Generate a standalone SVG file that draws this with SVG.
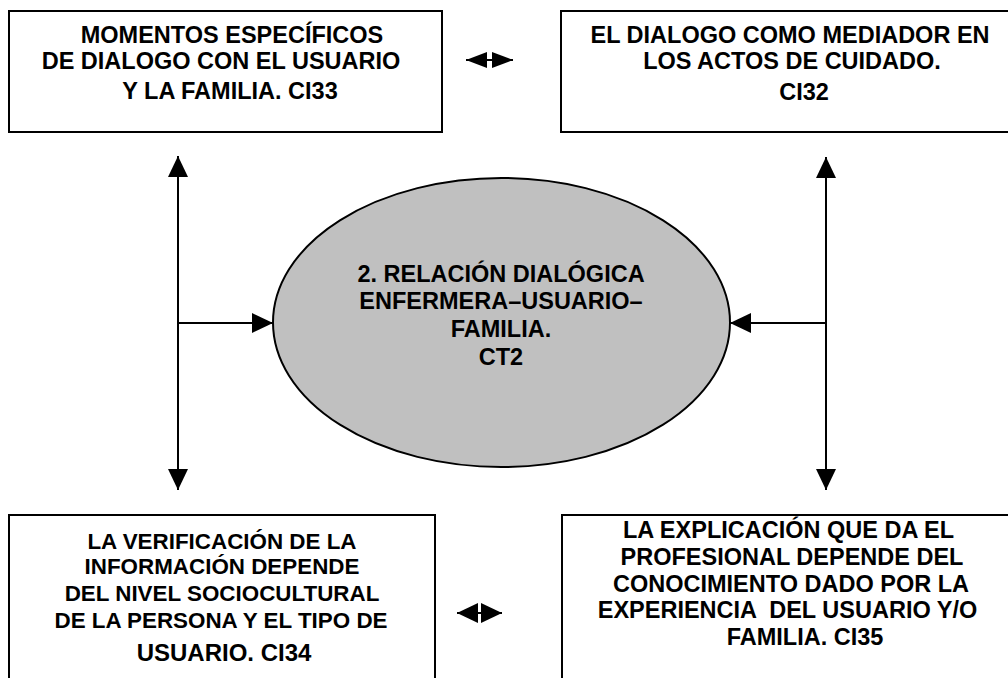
<svg xmlns="http://www.w3.org/2000/svg" width="1008" height="678" viewBox="0 0 1008 678">
<style>
.box{fill:#fff;stroke:#000;stroke-width:2}
.ell{fill:#c0c0c0;stroke:#000;stroke-width:2}
.t{font-family:"Liberation Sans",Arial,sans-serif;font-weight:bold;font-size:23.5px;fill:#000;text-anchor:middle}
.s{font-size:22.4px}
.c{stroke:#000;stroke-width:2;fill:none}
</style>
<defs>
<marker id="ah" markerUnits="userSpaceOnUse" markerWidth="21" markerHeight="20" refX="21" refY="10" orient="auto-start-reverse" viewBox="0 0 21 20">
<path d="M0,0 L21,10 L0,20 z" fill="#000"/>
</marker>
<marker id="ahs" markerUnits="userSpaceOnUse" markerWidth="21" markerHeight="16" refX="21" refY="8" orient="auto-start-reverse" viewBox="0 0 21 16">
<path d="M0,0 L21,8 L0,16 z" fill="#000"/>
</marker>
<marker id="ahm" markerUnits="userSpaceOnUse" markerWidth="21" markerHeight="20" refX="21" refY="10" orient="auto-start-reverse" viewBox="0 0 21 20">
<path d="M0,0 L21,10 L0,20 z" fill="#000"/>
</marker>
</defs>
<g id="connectors">
<line class="c" x1="178" y1="156" x2="178" y2="490" marker-start="url(#ah)" marker-end="url(#ah)"/>
<line class="c" x1="178" y1="323" x2="273" y2="323" marker-end="url(#ah)"/>
<line class="c" x1="826" y1="157" x2="826" y2="490" marker-start="url(#ah)" marker-end="url(#ah)"/>
<line class="c" x1="826" y1="323" x2="730" y2="323" marker-end="url(#ah)"/>
<line class="c" x1="466" y1="60" x2="513" y2="60" marker-start="url(#ahs)" marker-end="url(#ahs)"/>
<line class="c" x1="457" y1="613" x2="502" y2="613" marker-start="url(#ahm)" marker-end="url(#ahm)"/>
</g>
<g id="ci33">
<rect class="box" x="9" y="11" width="433" height="121"/>
<text class="t" x="232" y="43">MOMENTOS ESPECÍFICOS</text>
<text class="t" x="221" y="69">DE DIALOGO CON EL USUARIO</text>
<text class="t" x="230" y="99">Y LA FAMILIA. CI33</text>
</g>
<g id="ci32">
<rect class="box" x="561" y="11" width="460" height="121"/>
<text class="t" x="790" y="43">EL DIALOGO COMO MEDIADOR EN</text>
<text class="t" x="792" y="69">LOS ACTOS DE CUIDADO.</text>
<text class="t" x="804" y="100">CI32</text>
</g>
<g id="ct2">
<ellipse class="ell" cx="501.5" cy="322.5" rx="228.5" ry="144.5"/>
<text class="t" x="501" y="282">2. RELACIÓN DIALÓGICA</text>
<text class="t" x="501" y="309">ENFERMERA–USUARIO–</text>
<text class="t" x="501" y="337">FAMILIA.</text>
<text class="t" x="501" y="365">CT2</text>
</g>
<g id="ci34">
<rect class="box" x="9" y="515" width="426" height="180"/>
<text class="t s" x="222" y="549">LA VERIFICACIÓN DE LA</text>
<text class="t s" x="222" y="574">INFORMACIÓN DEPENDE</text>
<text class="t s" x="222" y="601">DEL NIVEL SOCIOCULTURAL</text>
<text class="t s" x="221" y="628">DE LA PERSONA Y EL TIPO DE</text>
<text class="t" x="224" y="661" style="font-size:24px">USUARIO. CI34</text>
</g>
<g id="ci35">
<rect class="box" x="562" y="515" width="460" height="180"/>
<text class="t" x="788.5" y="538">LA EXPLICACIÓN QUE DA EL</text>
<text class="t" x="792" y="565">PROFESIONAL DEPENDE DEL</text>
<text class="t" x="791" y="592">CONOCIMIENTO DADO POR LA</text>
<text class="t" x="787.5" y="618" xml:space="preserve">EXPERIENCIA  DEL USUARIO Y/O</text>
<text class="t" x="805" y="645">FAMILIA. CI35</text>
</g>
</svg>
